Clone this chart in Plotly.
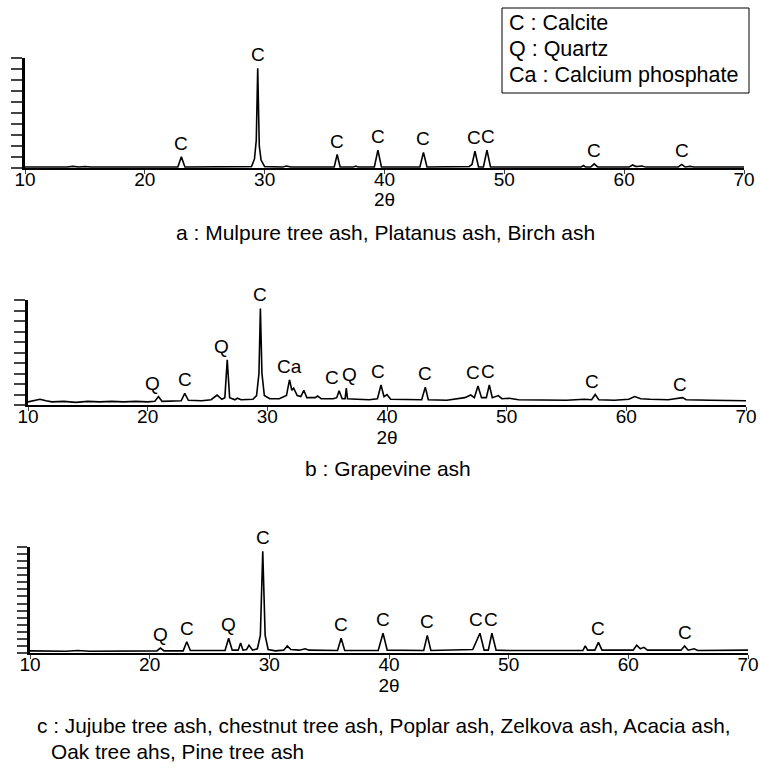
import plotly.graph_objects as go

W, H = 760, 774
FONT = "Liberation Sans, Arial, sans-serif"

# ---------------- data (2theta, relative intensity) ----------------
a_theta = [10, 13.5, 14, 14.5, 15, 15.5, 22.75, 23.05, 23.35, 28.9, 29.15, 29.3, 29.42, 29.55, 29.7, 30.0,
           31.5, 31.8, 32.2, 35.8, 36.05, 36.3, 37.4, 37.6, 37.8, 39.15, 39.45, 39.75, 42.95, 43.25, 43.55,
           47.05, 47.3, 47.55, 47.85, 48.25, 48.55, 48.85, 56.4, 56.6, 56.8, 57.2, 57.5, 57.8, 60.4, 60.7,
           61.0, 61.5, 61.8, 64.5, 64.8, 65.1, 65.5, 65.8, 70]
a_int = [0.05, 0.05, 0.12, 0.05, 0.1, 0.05, 0.05, 1.0, 0.05, 0.1, 0.8, 2.5, 9.06, 2.0, 0.7, 0.1,
         0.05, 0.15, 0.05, 0.05, 1.2, 0.05, 0.05, 0.15, 0.05, 0.05, 1.6, 0.05, 0.05, 1.4, 0.05,
         0.1, 0.3, 1.5, 0.05, 0.05, 1.6, 0.05, 0.05, 0.2, 0.05, 0.05, 0.35, 0.05, 0.05, 0.25,
         0.1, 0.15, 0.05, 0.05, 0.3, 0.05, 0.12, 0.05, 0.05]

b_theta = [10, 10.5, 11, 11.5, 12, 13, 14, 15, 16, 17, 18, 19, 20, 20.6, 20.9, 21.2, 22, 22.8, 23.1, 23.4,
           24.5, 25.3, 25.8, 26.2, 26.45, 26.65, 26.85, 27.3, 27.5, 27.8, 28.8, 29.1, 29.3, 29.42, 29.55,
           29.75, 30.2, 31.0, 31.6, 31.85, 32.05, 32.2, 32.5, 32.8, 33.05, 33.3, 34.0, 34.2, 34.5, 35.5,
           35.8, 36.0, 36.25, 36.5, 36.6, 36.7, 37.5, 38.5, 39.2, 39.5, 39.75, 40.0, 40.3, 41.5, 42.9,
           43.2, 43.45, 45, 46.0, 46.5, 47.0, 47.3, 47.6, 47.9, 48.3, 48.55, 48.8, 49.3, 49.6, 50.2, 51,
           53, 55, 56.5, 57.1, 57.4, 57.7, 59, 60.2, 60.7, 61.2, 62, 63.5, 64.7, 65.0, 67, 70]
b_int = [0.3, 0.4, 0.55, 0.4, 0.3, 0.35, 0.25, 0.35, 0.3, 0.35, 0.3, 0.35, 0.3, 0.35, 0.8, 0.35, 0.35, 0.4, 1.1, 0.45,
         0.4, 0.5, 0.95, 0.55, 0.7, 4.3, 0.7, 0.5, 0.65, 0.5, 0.55, 0.9, 3.0, 9.2, 3.0,
         0.9, 0.6, 0.6, 0.9, 2.4, 1.4, 1.6, 0.9, 0.8, 1.4, 0.7, 0.7, 0.85, 0.6, 0.6,
         0.7, 1.35, 0.6, 0.6, 1.6, 0.6, 0.55, 0.5, 0.6, 1.9, 0.8, 1.0, 0.55, 0.5, 0.5,
         1.7, 0.5, 0.45, 0.6, 0.7, 0.95, 0.7, 1.8, 0.7, 0.7, 1.9, 0.7, 0.9, 0.6, 0.65, 0.5,
         0.5, 0.45, 0.55, 0.5, 1.0, 0.5, 0.45, 0.55, 0.8, 0.6, 0.55, 0.5, 0.7, 0.5, 0.45, 0.4]

c_theta = [10, 13, 14, 15, 20.6, 20.9, 21.2, 22.8, 23.1, 23.4, 26.3, 26.6, 26.9, 27.4, 27.6, 27.8, 28.1, 28.3,
           28.6, 29.0, 29.25, 29.45, 29.65, 29.9, 30.5, 31.2, 31.5, 31.8, 32.5, 33.0, 33.3, 35.7, 36.0, 36.3,
           39.1, 39.5, 39.85, 40.1, 42.9, 43.2, 43.5, 47.0, 47.6, 47.95, 48.3, 48.6, 48.95, 50, 56.2, 56.4,
           56.6, 57.2, 57.5, 57.8, 60.4, 60.7, 61.0, 61.3, 61.6, 64.4, 64.7, 65.0, 65.5, 65.8, 70]
c_int = [0.3, 0.25, 0.35, 0.25, 0.3, 0.7, 0.3, 0.3, 1.6, 0.35, 0.35, 2.1, 0.4, 0.4, 1.4, 0.4, 0.5, 1.1,
         0.4, 0.6, 2.5, 14.4, 2.5, 0.5, 0.3, 0.4, 1.0, 0.5, 0.4, 0.6, 0.4, 0.35, 2.1, 0.35,
         0.35, 2.8, 0.4, 0.4, 0.35, 2.5, 0.35, 0.5, 2.8, 0.4, 0.4, 2.8, 0.4, 0.35, 0.35, 1.0,
         0.4, 0.4, 1.5, 0.4, 0.4, 1.1, 0.6, 0.8, 0.4, 0.4, 1.0, 0.4, 0.6, 0.35, 0.4]

# peak labels: (phase letter, 2theta of peak)
a_lbl_text = ["C", "C", "C", "C", "C", "C", "C", "C", "C"]
a_lbl_theta = [23.05, 29.42, 36.05, 39.45, 43.25, 47.55, 48.55, 57.5, 64.8]
b_lbl_text = ["Q", "C", "Q", "C", "Ca", "C", "Q", "C", "C", "C", "C", "C", "C"]
b_lbl_theta = [20.9, 23.1, 26.65, 29.42, 31.85, 36.0, 36.6, 39.5, 43.2, 47.6, 48.55, 57.4, 64.7]
c_lbl_text = ["Q", "C", "Q", "C", "C", "C", "C", "C", "C", "C", "C"]
c_lbl_theta = [20.9, 23.1, 26.6, 29.45, 36.0, 39.5, 43.2, 47.6, 48.6, 57.5, 64.7]

x_ticks = [10, 20, 30, 40, 50, 60, 70]
legend_lines = ["C : Calcite", "Q : Quartz", "Ca : Calcium phosphate"]
captions = ["a : Mulpure tree ash, Platanus ash, Birch ash", "b : Grapevine ash",
            "c : Jujube tree ash, chestnut tree ash, Poplar ash, Zelkova ash, Acacia ash,",
            "Oak tree ahs, Pine tree ash"]

# ---------------- layout helpers ----------------
def px(x):
    return x / W

def py(y):
    return 1 - y / H

panels = [
    dict(th=a_theta, it=a_int, lt=a_lbl_text, lth=a_lbl_theta, xd=(25, 744), yd=(167.7, 58), ymax=10,
         ticklen=11, xshift={5: -1, 6: 1}),
    dict(th=b_theta, it=b_int, lt=b_lbl_text, lth=b_lbl_theta, xd=(28, 746), yd=(405, 300), ymax=10,
         ticklen=11, xshift={0: -6, 2: -6, 5: -7, 6: 3, 7: -3, 9: -5, 10: -1, 11: -3, 12: -3}),
    dict(th=c_theta, it=c_int, lt=c_lbl_text, lth=c_lbl_theta, xd=(30, 748), yd=(653, 547), ymax=15,
         ticklen=10, xshift={7: -4, 8: -1}),
]

fig = go.Figure()
annotations = []
layout = dict(width=W, height=H, autosize=False, margin=dict(l=0, r=0, t=0, b=0, pad=0),
              paper_bgcolor="white", plot_bgcolor="white", showlegend=False,
              font=dict(family=FONT, color="black"))

for i, p in enumerate(panels):
    sfx = "" if i == 0 else str(i + 1)
    xa, ya = "x" + sfx, "y" + sfx
    fig.add_trace(go.Scatter(x=p["th"], y=p["it"], mode="lines", xaxis=xa, yaxis=ya,
                             line=dict(color="black", width=1.6), hoverinfo="skip"))
    layout["xaxis" + sfx] = dict(domain=[px(p["xd"][0]), px(p["xd"][1])], range=[10, 70], anchor=ya,
                                 automargin=False,
                                 tickvals=x_ticks, ticks="outside", ticklen=4, tickwidth=1,
                                 showline=True, linecolor="black", linewidth=2, showgrid=False,
                                 zeroline=False, tickfont=dict(size=19, family=FONT),
                                 ticklabelstandoff=-11,
                                 title=dict(text="2θ", font=dict(size=19, family=FONT), standoff=2))
    layout["yaxis" + sfx] = dict(domain=[py(p["yd"][0]), py(p["yd"][1])], range=[0, p["ymax"]],
                                 anchor=xa, automargin=False, dtick=1, ticks="outside",
                                 ticklen=p["ticklen"], tickwidth=1.5,
                                 showticklabels=False, showline=True, linecolor="black", linewidth=2.5,
                                 showgrid=False, zeroline=False)
    # labels above peaks: height taken from data around the peak
    for j, (t, th) in enumerate(zip(p["lt"], p["lth"])):
        h = max(v for x, v in zip(p["th"], p["it"]) if abs(x - th) <= 0.3)
        annotations.append(dict(x=th, y=h, xref=xa, yref=ya, text=t, showarrow=False,
                                yanchor="bottom", xanchor="center", yshift=1,
                                xshift=p["xshift"].get(j, 0), font=dict(size=19, family=FONT)))

# legend box
fig.add_shape(type="rect", xref="paper", yref="paper", x0=px(502), x1=px(749), y0=py(93), y1=py(8),
              line=dict(color="black", width=1))
for k, s in enumerate(legend_lines):
    annotations.append(dict(x=px(507), y=py(23 + 26 * k), xref="paper", yref="paper", text=s,
                            showarrow=False, xanchor="left", yanchor="middle",
                            font=dict(size=21.5, family=FONT)))

# captions
cap_pos = [(385, 232, "center", 21), (388, 468, "center", 21), (35, 725, "left", 20.8), (49, 751, "left", 20.8)]
for s, (cx, cy, anc, fs) in zip(captions, cap_pos):
    annotations.append(dict(x=px(cx), y=py(cy), xref="paper", yref="paper", text=s, showarrow=False,
                            xanchor=anc, yanchor="middle", font=dict(size=fs, family=FONT)))

layout["annotations"] = annotations
fig.update_layout(**layout)
fig.write_html("out.html")
